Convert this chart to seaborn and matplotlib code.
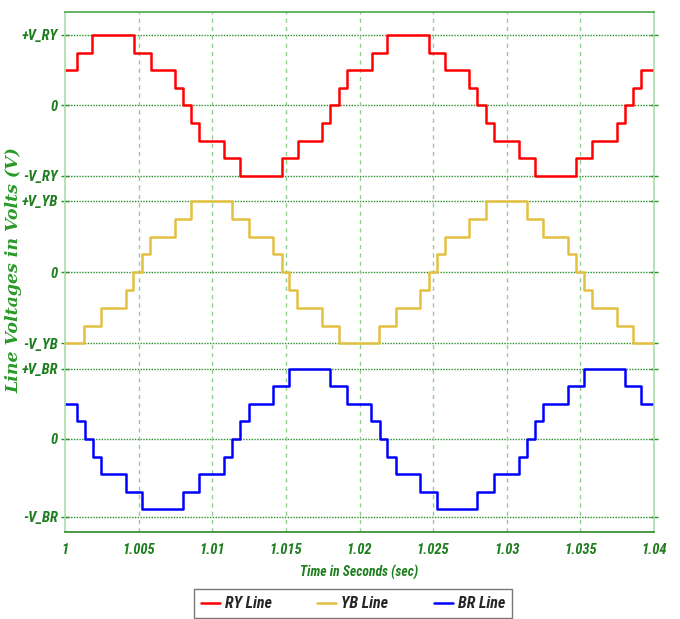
import numpy as np
import pandas as pd
import matplotlib
matplotlib.use("Agg")
import matplotlib.pyplot as plt
import seaborn as sns

# ---------------- data ----------------
ry_t = [1.0, 1.00081, 1.00185, 1.00466, 1.00582, 1.00745, 1.00799, 1.00855, 1.00912,
        1.01079, 1.01188, 1.01471, 1.01579, 1.01746, 1.01803, 1.01860, 1.01912, 1.02082,
        1.02190, 1.02469, 1.02581, 1.02744, 1.02801, 1.02858, 1.02914, 1.03082, 1.03192,
        1.03470, 1.03579, 1.03747, 1.03803, 1.03857, 1.03914, 1.04]
ry_v = [2, 3, 4, 3, 2, 1, 0, -1, -2, -3, -4, -3, -2, -1, 0, 1, 2, 3, 4, 3, 2, 1, 0, -1,
        -2, -3, -4, -3, -2, -1, 0, 1, 2, 2]

yb_t = [1.0, 1.00129, 1.00242, 1.00412, 1.00464, 1.00523, 1.00579, 1.00747, 1.00855,
        1.01131, 1.01247, 1.01414, 1.01471, 1.01522, 1.01577, 1.01744, 1.01860, 1.02133,
        1.02245, 1.02412, 1.02469, 1.02523, 1.02579, 1.02747, 1.02860, 1.03136, 1.03246,
        1.03414, 1.03471, 1.03525, 1.03579, 1.03747, 1.03857, 1.04]
yb_v = [-4, -3, -2, -1, 0, 1, 2, 3, 4, 3, 2, 1, 0, -1, -2, -3, -4, -3, -2, -1, 0, 1, 2,
        3, 4, 3, 2, 1, 0, -1, -2, -3, -4, -4]

br_t = [1.0, 1.00081, 1.00134, 1.00188, 1.00244, 1.00412, 1.00525, 1.00799, 1.00912,
        1.01079, 1.01134, 1.01188, 1.01247, 1.01414, 1.01522, 1.01801, 1.01912, 1.02079,
        1.02136, 1.02190, 1.02245, 1.02412, 1.02523, 1.02801, 1.02912, 1.03081, 1.03136,
        1.03192, 1.03246, 1.03414, 1.03525, 1.03801, 1.03914, 1.04]
br_v = [2, 1, 0, -1, -2, -3, -4, -3, -2, -1, 0, 1, 2, 3, 4, 3, 2, 1, 0, -1, -2, -3, -4,
        -3, -2, -1, 0, 1, 2, 3, 4, 3, 2, 2]

series_names = ["RY Line", "YB Line", "BR Line"]
series_colors = ["#ff0000", "#e2c040", "#0000ff"]
ytick_vals = [[4, 0, -4], [4, 0, -4], [4, 0, -4.45]]
ytick_labels = [["+V_RY", "0", "-V_RY"], ["+V_YB", "0", "-V_YB"], ["+V_BR", "0", "-V_BR"]]
xtick_vals = [1.0, 1.005, 1.01, 1.015, 1.02, 1.025, 1.03, 1.035, 1.04]
xtick_labels = ["1", "1.005", "1.01", "1.015", "1.02", "1.025", "1.03", "1.035", "1.04"]

# ---------------- style ----------------
sns.set_theme(style="white")
FONTS = ["Roboto Condensed", "Liberation Serif", "DejaVu Serif"]
plt.rcParams["font.family"] = FONTS
plt.rcParams["font.stretch"] = "condensed"

W, H = 680, 619
fig = plt.figure(figsize=(W / 100, H / 100), dpi=100)

GREEN_TXT = "#1e7d1e"
GRID_H = "#2a8f2a"
GRID_V = "#8fd08f"

left_px, right_px = 65, 654
bounds = [(12, 188.5), (188.5, 356.5), (356.5, 532)]
ylims = [(-4.71, 5.305), (-4.73, 4.70), (-5.314, 4.714)]
data = [(ry_t, ry_v), (yb_t, yb_v), (br_t, br_v)]

axes = []
for i, ((top, bot), (t, v)) in enumerate(zip(bounds, data)):
    ax = fig.add_axes([left_px / W, 1 - bot / H, (right_px - left_px) / W, (bot - top) / H])
    axes.append(ax)
    df = pd.DataFrame({"t": t, "v": v})
    sns.lineplot(data=df, x="t", y="v", ax=ax, color=series_colors[i], lw=1.8,
                 drawstyle="steps-post", estimator=None, sort=False,
                 label=series_names[i], legend=False)
    ax.set_xlim(1.0, 1.04)
    ax.set_ylim(*ylims[i])
    ax.set_yticks(ytick_vals[i])
    ax.set_yticklabels(ytick_labels[i])
    ax.set_xticks(xtick_vals)
    ax.set_xlabel("")
    ax.set_ylabel("")
    for yv in ytick_vals[i]:
        ax.axhline(yv, color=GRID_H, lw=1.0, ls=(0, (1, 1)), zorder=0)
    for xv in xtick_vals[1:-1]:
        ax.axvline(xv, color=GRID_V, lw=1.0, ls=(0, (3, 3)), zorder=0)
    ax.tick_params(axis="y", left=True, right=True, direction="inout", length=6,
                   width=1, color=GRID_H, labelcolor=GREEN_TXT, pad=2)
    for lab in ax.get_yticklabels():
        lab.set_fontweight("bold")
        lab.set_fontstyle("italic")
        lab.set_fontsize(10.5)
    for s in ["top", "bottom"]:
        ax.spines[s].set_visible(False)
    for s in ["left", "right"]:
        ax.spines[s].set_color("#a9dca9")
        ax.spines[s].set_linewidth(1.2)
    if i < 2:
        ax.tick_params(axis="x", bottom=False, labelbottom=False)
    else:
        ax.set_xticklabels(xtick_labels)
        ax.tick_params(axis="x", bottom=False, labelcolor=GREEN_TXT, pad=2)
        for lab in ax.get_xticklabels():
            lab.set_fontweight("bold")
            lab.set_fontstyle("italic")
            lab.set_fontsize(10.5)

axes[0].spines["top"].set_visible(True)
axes[0].spines["top"].set_color("#4aa84a")
axes[0].spines["top"].set_linewidth(1.2)
axes[2].spines["bottom"].set_visible(True)
axes[2].spines["bottom"].set_color("#2a8a2a")
axes[2].spines["bottom"].set_linewidth(1.2)

fig.text(359.5 / W, 1 - 572 / H, "Time in Seconds (sec)", ha="center", va="center",
         color=GREEN_TXT, fontweight="bold", fontstyle="italic", fontsize=9.8)
fig.text(14 / W, 1 - 270 / H, "Line Voltages in Volts (V)", ha="center", va="center",
         rotation=90, color="#2a9a2a", fontweight="bold", fontstyle="italic", fontsize=12.5,
         family=["DejaVu Serif"], fontstretch="normal")

handles = [axes[k].get_lines()[0] for k in range(3)]
leg = fig.legend(handles, series_names, loc="upper center", ncol=3,
                 bbox_to_anchor=(353 / W, 1 - 589 / H), frameon=True, fancybox=False,
                 borderaxespad=0,
                 prop={"weight": "bold", "style": "italic", "size": 11.5},
                 handlelength=1.2, handletextpad=0.3, columnspacing=2.85,
                 borderpad=0.45)
leg.get_frame().set_edgecolor("#555555")
leg.get_frame().set_linewidth(1.0)

fig.savefig("out.png", dpi=100)
